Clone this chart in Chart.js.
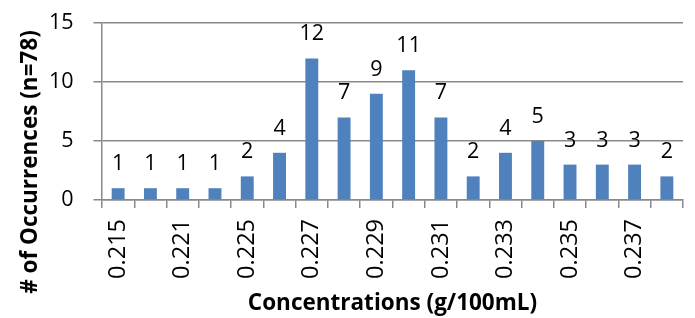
<!DOCTYPE html>
<html lang="en">
<head>
    <meta charset="UTF-8">
    <title>Concentrations histogram</title>
    <script src="https://cdn.jsdelivr.net/npm/chart.js"></script>
    <style>
        html, body { margin: 0; padding: 0; background: #fff; }
        #wrap { width: 695px; height: 318px; }
    </style>
</head>
<body>
    <div id="wrap"><canvas id="histChart"></canvas></div>

    <script>
        // bins (only every other one is labelled on the axis)
        const concentrations = ["0.215", "0.219", "0.221", "0.223", "0.225", "0.226", "0.227", "0.228", "0.229",
                                "0.230", "0.231", "0.232", "0.233", "0.234", "0.235", "0.236", "0.237", "0.238"];
        const occurrences = [1, 1, 1, 1, 2, 4, 12, 7, 9, 11, 7, 2, 4, 5, 3, 3, 3, 2];
        const yTicks = [0, 5, 10, 15];
        const yTitle = '# of Occurrences (n=78)';
        const xTitle = 'Concentrations (g/100mL)';

        const FONT = "'Open Sans', 'Liberation Sans', sans-serif";
        const GRID = '#898989';

        // number above each bar + the y title centred on the whole chart height
        const extras = {
            id: 'extras',
            afterDatasetsDraw(chart) {
                const ctx = chart.ctx;
                const meta = chart.getDatasetMeta(0);
                ctx.save();
                ctx.font = "21.5px " + FONT;
                ctx.fillStyle = '#000';
                ctx.textAlign = 'center';
                ctx.textBaseline = 'alphabetic';
                meta.data.forEach(function(bar, i) {
                    ctx.fillText(String(occurrences[i]), bar.x, bar.y - 18);
                });
                ctx.restore();
            },
            afterDraw(chart) {
                const ctx = chart.ctx;
                ctx.save();
                ctx.translate(31, chart.height / 2 + 3);
                ctx.rotate(-Math.PI / 2);
                ctx.font = "bold 22.5px " + FONT;
                ctx.fillStyle = '#000';
                ctx.textAlign = 'center';
                ctx.textBaseline = 'middle';
                ctx.fillText(yTitle, 0, 0);
                ctx.restore();
            }
        };

        new Chart(document.getElementById('histChart'), {
            type: 'bar',
            data: {
                labels: concentrations,
                datasets: [{
                    data: occurrences,
                    backgroundColor: '#4F81BD',
                    categoryPercentage: 1,
                    barPercentage: 0.4
                }]
            },
            options: {
                responsive: true,
                maintainAspectRatio: false,
                animation: false,
                layout: { padding: { left: 0, right: 12, top: 23, bottom: 0 } },
                plugins: { legend: { display: false }, tooltip: { enabled: false } },
                scales: {
                    x: {
                        afterFit(scale) {
                            scale.height = 118;
                            scale.paddingLeft = 0;
                            scale.paddingRight = 0;
                        },
                        grid: { drawOnChartArea: false, drawTicks: true, tickLength: 8, color: GRID, lineWidth: 1.5 },
                        border: { color: GRID, width: 1.5 },
                        ticks: {
                            autoSkip: false,
                            minRotation: 90,
                            maxRotation: 90,
                            padding: 11,
                            color: '#000',
                            font: { family: FONT, size: 23.5 },
                            callback: function(value, index) { return index % 2 === 0 ? concentrations[index] : ''; }
                        },
                        title: {
                            display: true,
                            text: xTitle,
                            color: '#000',
                            font: { family: FONT, size: 22.5, weight: 'bold', lineHeight: 1 },
                            padding: { top: 0, bottom: 3 }
                        }
                    },
                    y: {
                        min: 0,
                        max: 15,
                        afterFit(scale) {
                            scale.width = 102;
                            scale.paddingTop = 0;
                            scale.paddingBottom = 0;
                        },
                        afterBuildTicks(scale) { scale.ticks = yTicks.map(function(v) { return { value: v }; }); },
                        grid: { color: GRID, lineWidth: 1.5, tickLength: 8.5 },
                        border: { color: GRID, width: 1.5 },
                        ticks: {
                            padding: 20,
                            color: '#000',
                            font: { family: FONT, size: 21.5 }
                        }
                    }
                }
            },
            plugins: [extras]
        });
    </script>
</body>
</html>
